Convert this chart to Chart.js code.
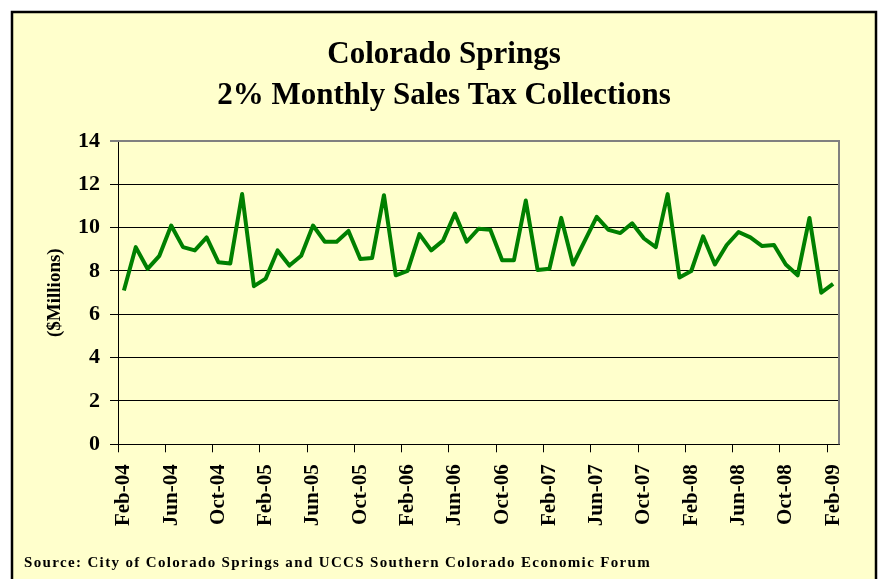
<!DOCTYPE html>
<html>
<head>
<meta charset="utf-8">
<script src="https://cdn.jsdelivr.net/npm/chart.js@4/dist/chart.umd.min.js"></script>
<style>
  html, body { margin: 0; padding: 0; background: #fff; }
  #wrap { width: 880px; height: 579px; }
</style>
</head>
<body>
<div id="wrap"><canvas id="myChart" width="880" height="579"></canvas></div>
<script>
// monthly categories, Feb-04 .. Feb-09
var months = [
  "Feb-04","Mar-04","Apr-04","May-04","Jun-04","Jul-04","Aug-04","Sep-04","Oct-04","Nov-04","Dec-04",
  "Jan-05","Feb-05","Mar-05","Apr-05","May-05","Jun-05","Jul-05","Aug-05","Sep-05","Oct-05","Nov-05","Dec-05",
  "Jan-06","Feb-06","Mar-06","Apr-06","May-06","Jun-06","Jul-06","Aug-06","Sep-06","Oct-06","Nov-06","Dec-06",
  "Jan-07","Feb-07","Mar-07","Apr-07","May-07","Jun-07","Jul-07","Aug-07","Sep-07","Oct-07","Nov-07","Dec-07",
  "Jan-08","Feb-08","Mar-08","Apr-08","May-08","Jun-08","Jul-08","Aug-08","Sep-08","Oct-08","Nov-08","Dec-08",
  "Jan-09","Feb-09"
];

// $ millions
var collections = [
  7.1, 9.1, 8.1, 8.7, 10.1, 9.1, 8.95, 9.55, 8.4, 8.35, 11.55,
  7.3, 7.65, 8.95, 8.25, 8.7, 10.1, 9.35, 9.35, 9.85, 8.55, 8.6, 11.5,
  7.8, 8.0, 9.7, 8.95, 9.4, 10.65, 9.35, 9.95, 9.9, 8.5, 8.5, 11.25,
  8.05, 8.1, 10.45, 8.3, 9.4, 10.5, 9.9, 9.75, 10.2, 9.5, 9.1, 11.55,
  7.7, 8.0, 9.6, 8.3, 9.2, 9.8, 9.55, 9.15, 9.2, 8.3, 7.8, 10.45,
  7.0, 7.4
];

var yMin = 0, yMax = 14, yStep = 2;
var labelEvery = 4;

var serif = '"Liberation Serif", "Times New Roman", serif';
var titleLines = ['Colorado Springs', '2% Monthly Sales Tax Collections'];
var sourceText = "Source: City of Colorado Springs and UCCS Southern Colorado Economic Forum";

var framePlugin = {
  id: 'frame',
  beforeDraw: function(chart) {
    var ctx = chart.ctx;
    ctx.save();
    ctx.fillStyle = '#ffffff';
    ctx.fillRect(0, 0, chart.width, chart.height);
    ctx.fillStyle = '#ffffcc';
    ctx.fillRect(12, 12, 864, 600);
    ctx.strokeStyle = '#000';
    ctx.lineWidth = 2.5;
    ctx.strokeRect(12, 12, 864, 600);
    ctx.restore();
  },
  beforeDatasetsDraw: function(chart) {
    var ctx = chart.ctx, a = chart.chartArea;
    ctx.save();
    ctx.strokeStyle = '#808080';
    ctx.lineWidth = 2;
    ctx.beginPath();
    ctx.moveTo(a.left, a.top);
    ctx.lineTo(a.right, a.top);
    ctx.lineTo(a.right, a.bottom);
    ctx.stroke();
    ctx.restore();
  },
  afterDraw: function(chart) {
    var ctx = chart.ctx;
    ctx.save();
    ctx.fillStyle = '#000';
    ctx.textBaseline = 'middle';
    // title, centred on the frame
    ctx.textAlign = 'center';
    ctx.font = 'bold 31px ' + serif;
    ctx.fillText(titleLines[0], 444, 55);
    ctx.fillText(titleLines[1], 444, 96);
    // source note
    ctx.textAlign = 'left';
    ctx.font = 'bold 15px ' + serif;
    ctx.letterSpacing = '1.35px';
    ctx.fillText(sourceText, 24, 563);
    ctx.restore();
  }
};

new Chart(document.getElementById('myChart'), {
  type: 'line',
  data: {
    labels: months,
    datasets: [{
      data: collections,
      borderColor: '#008000',
      borderWidth: 4,
      borderJoinStyle: 'round',
      pointRadius: 0,
      tension: 0,
      fill: false
    }]
  },
  options: {
    responsive: false,
    animation: false,
    devicePixelRatio: 1,
    layout: { padding: { top: 141, left: 12, right: 41, bottom: 38.7 } },
    plugins: {
      legend: { display: false },
      tooltip: { enabled: false },
      title: { display: false }
    },
    scales: {
      x: {
        type: 'category',
        offset: true,
        afterFit: function(scale) { scale.height = 96; },
        border: { color: '#000', width: 1 },
        grid: {
          offset: true,
          drawOnChartArea: false,
          tickLength: 8,
          color: function(c) { return c.index % labelEvery === 0 ? '#000' : 'rgba(0,0,0,0)'; }
        },
        ticks: {
          autoSkip: false,
          minRotation: 90,
          maxRotation: 90,
          padding: 12,
          color: '#000',
          font: { family: serif, size: 21, weight: 'bold' },
          callback: function(v, i) { return i % labelEvery === 0 ? months[i] : ''; }
        }
      },
      y: {
        min: yMin,
        max: yMax,
        afterFit: function(scale) { scale.width = 106; },
        border: { color: '#000', width: 1 },
        grid: {
          tickLength: 8,
          color: function(c) { return c.tick && c.tick.value === yMax ? '#808080' : '#000'; },
          lineWidth: function(c) { return c.tick && c.tick.value === yMax ? 2 : 1; }
        },
        ticks: {
          stepSize: yStep,
          padding: 10,
          color: '#000',
          font: { family: serif, size: 22, weight: 'bold' }
        },
        title: {
          display: true,
          text: '($Millions)',
          color: '#000',
          font: { family: serif, size: 19, weight: 'bold' },
          padding: { top: 31.6, bottom: 0 }
        }
      }
    }
  },
  plugins: [framePlugin]
});
</script>
</body>
</html>
